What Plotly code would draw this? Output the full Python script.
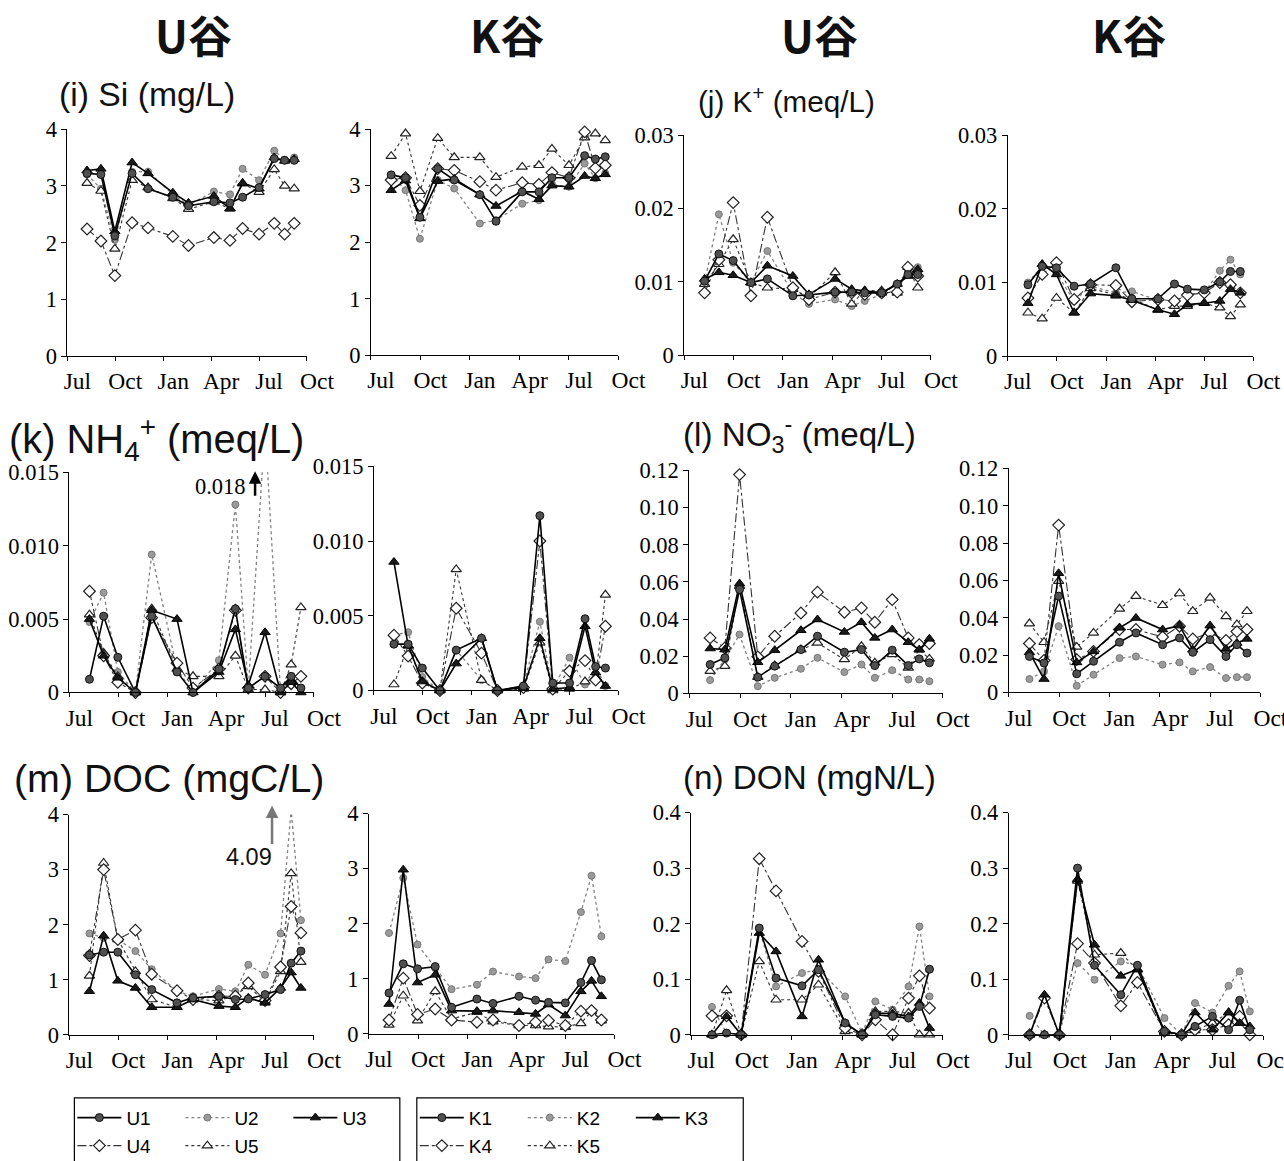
import plotly.graph_objects as go

# page geometry (the page is photographed with a small fixed scale/offset,
# so pixel positions measured on the reference are mapped back through it)
S, OX, OY = 0.978, 1.5, 13.0
W, H = 1311, 1174


def fx(x):
    return (x - OX) / S / W


def fy(y):
    return 1 - (y - OY) / S / H


def fs(size):
    return size / S


# ---------------- axis definitions ----------------
month_ticks = [0, 3, 6, 9, 12, 15]
month_labels = ["Jul", "Oct", "Jan", "Apr", "Jul", "Oct"]
# sampling dates, in months after 1 July
sample_months = [1.23, 2.1, 2.97, 4.05, 5.05, 6.6, 7.58, 9.17, 10.18, 10.97, 12.0, 12.95, 13.6, 14.2]

si_ticks = [0, 1, 2, 3, 4]
si_labels = ["0", "1", "2", "3", "4"]
k_ticks = [0, 0.01, 0.02, 0.03]
k_labels = ["0", "0.01", "0.02", "0.03"]
nh4_ticks = [0, 0.005, 0.010, 0.015]
nh4_labels = ["0", "0.005", "0.010", "0.015"]
no3_ticks = [0, 0.02, 0.04, 0.06, 0.08, 0.10, 0.12]
no3_labels = ["0", "0.02", "0.04", "0.06", "0.08", "0.10", "0.12"]
doc_ticks = [0, 1, 2, 3, 4]
doc_labels = ["0", "1", "2", "3", "4"]
don_ticks = [0, 0.1, 0.2, 0.3, 0.4]
don_labels = ["0", "0.1", "0.2", "0.3", "0.4"]

# ---------------- (i) Si (mg/L) ----------------
si_U1 = [3.22, 3.2, 2.12, 3.22, 2.95, 2.8, 2.65, 2.72, 2.7, 2.8, 2.97, 3.48, 3.45, 3.45]
si_U2 = [3.2, 2.95, 2.05, 3.25, 3.25, 2.85, 2.66, 2.9, 2.85, 3.3, 3.1, 3.62, 3.46, 3.5]
si_U3 = [3.27, 3.3, 2.2, 3.41, 3.22, 2.88, 2.7, 2.82, 2.6, 3.05, 2.95, 3.5, 3.44, 3.47]
si_U4 = [2.24, 2.03, 1.42, 2.35, 2.26, 2.11, 1.95, 2.09, 2.04, 2.25, 2.15, 2.34, 2.15, 2.34]
si_U5 = [3.05, 2.91, 1.89, 3.1, 2.97, 2.78, 2.59, 2.72, 2.6, 3.04, 2.89, 3.29, 3.0, 2.95]
si_K1 = [3.19, 3.14, 2.44, 3.3, 3.1, 2.84, 2.37, 2.89, 2.89, 3.14, 3.14, 3.53, 3.47, 3.51]
si_K2 = [3.19, 2.92, 2.06, 3.1, 2.95, 2.33, 2.39, 2.68, 2.74, 3.02, 2.98, 3.39, 3.13, 3.22]
si_K3 = [2.92, 3.09, 2.42, 3.08, 3.12, 2.84, 2.64, 2.9, 2.76, 3.0, 2.98, 3.17, 3.13, 3.2]
si_K4 = [3.1, 3.14, 2.65, 3.3, 3.27, 3.07, 2.92, 3.05, 3.02, 3.23, 3.14, 3.95, 3.31, 3.36]
si_K5 = [3.52, 3.92, 2.9, 3.84, 3.5, 3.5, 3.15, 3.33, 3.36, 3.65, 3.36, 3.85, 3.92, 3.8]

# ---------------- (j) K+ (meq/L) ----------------
k_U1 = [0.0101, 0.0138, 0.0129, 0.0099, 0.0104, 0.0081, 0.0082, 0.0086, 0.0086, 0.0085, 0.0085, 0.0097, 0.011, 0.011]
k_U2 = [0.0099, 0.0192, 0.0126, 0.0099, 0.0142, 0.0085, 0.007, 0.0076, 0.0067, 0.0074, 0.0083, 0.0097, 0.0115, 0.012]
k_U3 = [0.0104, 0.0113, 0.0109, 0.0099, 0.0122, 0.0108, 0.0083, 0.0104, 0.009, 0.0088, 0.0085, 0.0097, 0.0108, 0.0117]
k_U4 = [0.0085, 0.013, 0.0208, 0.0081, 0.0188, 0.0092, 0.0076, 0.0086, 0.0085, 0.0083, 0.0085, 0.0086, 0.012, 0.0108]
k_U5 = [0.0097, 0.0124, 0.0158, 0.0099, 0.0092, 0.009, 0.0079, 0.0113, 0.007, 0.0088, 0.0088, 0.0085, 0.012, 0.0092]
k_K1 = [0.0097, 0.0122, 0.012, 0.0095, 0.0098, 0.012, 0.0078, 0.0078, 0.0098, 0.0091, 0.009, 0.0101, 0.0115, 0.0115]
k_K2 = [0.01, 0.0122, 0.0113, 0.0075, 0.0095, 0.0086, 0.0088, 0.0076, 0.0076, 0.0084, 0.0086, 0.0116, 0.0131, 0.0111]
k_K3 = [0.0072, 0.0125, 0.0111, 0.0059, 0.0085, 0.0082, 0.0076, 0.0063, 0.0057, 0.007, 0.0072, 0.0075, 0.0091, 0.0086]
k_K4 = [0.0079, 0.0111, 0.0127, 0.0077, 0.0097, 0.0096, 0.0074, 0.0077, 0.0075, 0.0083, 0.0086, 0.01, 0.0097, 0.0086]
k_K5 = [0.0059, 0.0051, 0.0079, 0.0059, 0.0092, 0.0084, 0.0078, 0.0063, 0.0068, 0.0068, 0.0072, 0.0066, 0.0054, 0.007]

# ---------------- (k) NH4+ (meq/L) ----------------
nh4_U1 = [0.0009, 0.0052, 0.0024, 0.0, 0.0052, 0.0014, 0.0, 0.0016, 0.0057, 0.0003, 0.0011, 0.0003, 0.0011, 0.0003]
nh4_U2 = [0.0048, 0.0068, 0.0014, 0.0, 0.0094, 0.0016, 0.0, 0.0022, 0.0128, 0.0003, 0.018, 0.0, 0.0011, 0.0003]
nh4_U3 = [0.005, 0.0025, 0.001, 0.0, 0.0056, 0.005, 0.0, 0.0014, 0.0043, 0.0005, 0.0041, 0.0, 0.0007, 0.0]
nh4_U4 = [0.0069, 0.0025, 0.0007, 0.0, 0.0051, 0.002, 0.0003, 0.0016, 0.0056, 0.0003, 0.0011, 0.0, 0.0006, 0.0011]
nh4_U5 = [0.0053, 0.0027, 0.0011, 0.0, 0.0057, 0.0016, 0.0011, 0.0011, 0.0025, 0.0002, 0.0002, 0.0, 0.0019, 0.0058]
nh4_K1 = [0.0031, 0.0031, 0.0015, 0.0, 0.0027, 0.0035, 0.0, 0.0003, 0.0117, 0.0005, 0.0005, 0.0048, 0.0016, 0.0015]
nh4_K2 = [0.0037, 0.0039, 0.0009, 0.0, 0.0027, 0.0007, 0.0, 0.0003, 0.0046, 0.0001, 0.0022, 0.0004, 0.0016, 0.0003]
nh4_K3 = [0.0086, 0.003, 0.0006, 0.0, 0.0018, 0.0035, 0.0, 0.0002, 0.0035, 0.0001, 0.0002, 0.0043, 0.0012, 0.0003]
nh4_K4 = [0.0037, 0.0023, 0.0005, 0.0, 0.0055, 0.0025, 0.0, 0.0002, 0.01, 0.0001, 0.0013, 0.002, 0.0007, 0.0043]
nh4_K5 = [0.0004, 0.003, 0.0005, 0.0, 0.0081, 0.0007, 0.0, 0.0001, 0.0032, 0.0, 0.0001, 0.0006, 0.0009, 0.0064]

# ---------------- (l) NO3- (meq/L) ----------------
no3_U1 = [0.0156, 0.0192, 0.0559, 0.0088, 0.0147, 0.0236, 0.0308, 0.0222, 0.0236, 0.015, 0.0233, 0.015, 0.0186, 0.0165]
no3_U2 = [0.0072, 0.0183, 0.0317, 0.0039, 0.0084, 0.0133, 0.0192, 0.0115, 0.0156, 0.0084, 0.0125, 0.0075, 0.0075, 0.0066]
no3_U3 = [0.0242, 0.0236, 0.0591, 0.0168, 0.0233, 0.034, 0.0398, 0.0331, 0.0383, 0.0299, 0.0344, 0.0276, 0.0236, 0.0294]
no3_U4 = [0.0299, 0.0245, 0.1177, 0.0197, 0.0308, 0.0433, 0.0545, 0.0437, 0.046, 0.0383, 0.0505, 0.0299, 0.0263, 0.0269]
no3_U5 = [0.012, 0.0147, 0.0577, 0.0088, 0.015, 0.0236, 0.0272, 0.0183, 0.0254, 0.0165, 0.021, 0.0138, 0.0236, 0.0186]
no3_K1 = [0.0193, 0.0158, 0.0516, 0.01, 0.0167, 0.0269, 0.0319, 0.0256, 0.0292, 0.0215, 0.0283, 0.0193, 0.0256, 0.0211]
no3_K2 = [0.0072, 0.0113, 0.0355, 0.0036, 0.0095, 0.0184, 0.0193, 0.0149, 0.0161, 0.0113, 0.0136, 0.0077, 0.0082, 0.0082]
no3_K3 = [0.0215, 0.0072, 0.0638, 0.0161, 0.022, 0.0346, 0.0399, 0.0337, 0.0358, 0.0229, 0.0358, 0.0233, 0.0265, 0.0287]
no3_K4 = [0.0262, 0.0172, 0.0896, 0.0176, 0.022, 0.0337, 0.0337, 0.0297, 0.0355, 0.0287, 0.0319, 0.0279, 0.0326, 0.0337]
no3_K5 = [0.0369, 0.0269, 0.0596, 0.0244, 0.0319, 0.0448, 0.0516, 0.0467, 0.053, 0.0435, 0.0507, 0.0408, 0.0364, 0.0435]

# ---------------- (m) DOC (mgC/L) ----------------
doc_U1 = [1.45, 1.5, 1.5, 1.09, 0.82, 0.58, 0.67, 0.7, 0.64, 0.65, 0.73, 0.82, 1.3, 1.52]
doc_U2 = [1.84, 1.76, 1.73, 1.52, 1.19, 0.79, 0.7, 0.83, 0.79, 1.27, 1.09, 1.84, 4.09, 2.08]
doc_U3 = [0.79, 1.8, 0.98, 0.85, 0.5, 0.5, 0.64, 0.52, 0.5, 0.67, 0.58, 0.85, 1.13, 0.85]
doc_U4 = [1.44, 3.0, 1.73, 1.9, 1.1, 0.8, 0.64, 0.7, 0.7, 0.94, 0.62, 1.23, 2.33, 1.85]
doc_U5 = [1.07, 3.12, 1.73, 1.15, 0.64, 0.5, 0.64, 0.62, 0.72, 0.88, 0.6, 1.15, 2.93, 1.32]
doc_K1 = [0.74, 1.27, 1.18, 1.22, 0.48, 0.63, 0.55, 0.68, 0.61, 0.57, 0.56, 0.93, 1.33, 0.98]
doc_K2 = [1.83, 2.83, 1.62, 1.19, 0.81, 0.89, 1.13, 1.04, 1.01, 1.35, 1.32, 2.21, 2.87, 1.77]
doc_K3 = [0.54, 2.98, 0.93, 1.07, 0.42, 0.41, 0.42, 0.39, 0.36, 0.53, 0.33, 0.77, 0.96, 0.68]
doc_K4 = [0.25, 1.01, 0.35, 0.45, 0.25, 0.21, 0.25, 0.15, 0.21, 0.24, 0.15, 0.41, 0.42, 0.25]
doc_K5 = [0.16, 0.69, 0.24, 0.77, 0.27, 0.39, 0.22, 0.15, 0.15, 0.13, 0.12, 0.19, 0.41, 0.24]

# ---------------- (n) DON (mgN/L) ----------------
don_U1 = [0.0, 0.003, 0.0, 0.192, 0.102, 0.088, 0.117, 0.021, 0.0, 0.036, 0.033, 0.03, 0.051, 0.118]
don_U2 = [0.05, 0.003, 0.0, 0.19, 0.087, 0.111, 0.118, 0.069, 0.003, 0.06, 0.045, 0.087, 0.195, 0.069]
don_U3 = [0.0, 0.033, 0.0, 0.183, 0.15, 0.033, 0.135, 0.021, 0.0, 0.039, 0.038, 0.033, 0.057, 0.012]
don_U4 = [0.034, 0.034, 0.0, 0.317, 0.259, 0.168, 0.114, 0.012, 0.0, 0.027, 0.0, 0.066, 0.106, 0.048]
don_U5 = [0.0, 0.08, 0.0, 0.132, 0.063, 0.063, 0.09, 0.006, 0.0, 0.042, 0.042, 0.039, 0.0, 0.0]
don_K1 = [0.0, 0.0, 0.0, 0.3, 0.125, 0.072, 0.125, 0.006, 0.0, 0.015, 0.033, 0.009, 0.062, 0.009]
don_K2 = [0.034, 0.0, 0.0, 0.129, 0.099, 0.132, 0.125, 0.03, 0.0, 0.057, 0.04, 0.088, 0.114, 0.042]
don_K3 = [0.0, 0.072, 0.0, 0.28, 0.162, 0.106, 0.118, 0.006, 0.0, 0.04, 0.009, 0.04, 0.021, 0.015]
don_K4 = [0.0, 0.066, 0.0, 0.164, 0.129, 0.052, 0.094, 0.006, 0.0, 0.009, 0.009, 0.018, 0.033, 0.0]
don_K5 = [0.0, 0.0, 0.0, 0.277, 0.144, 0.147, 0.117, 0.003, 0.0, 0.008, 0.021, 0.04, 0.021, 0.003]

valley_titles = ["U谷", "K谷", "U谷", "K谷"]
panel_titles = ["(i) Si (mg/L)", "(j) K<sup>+</sup> (meq/L)", "(k) NH<sub>4</sub><sup>+</sup> (meq/L)",
                "(l) NO<sub>3</sub><sup>-</sup> (meq/L)", "(m) DOC (mgC/L)", "(n) DON (mgN/L)"]

# ---------------- figure construction ----------------
# (pixel box of each plot area on the reference: x0, x1, ytop, ybottom)
panels = [
    ("U", [si_U1, si_U2, si_U3, si_U4, si_U5], si_ticks, si_labels, (65, 305, 130, 357)),
    ("K", [si_K1, si_K2, si_K3, si_K4, si_K5], si_ticks, si_labels, (369, 617, 130, 356)),
    ("U", [k_U1, k_U2, k_U3, k_U4, k_U5], k_ticks, k_labels, (683, 930, 136, 356)),
    ("K", [k_K1, k_K2, k_K3, k_K4, k_K5], k_ticks, k_labels, (1007, 1253, 136, 357)),
    ("U", [nh4_U1, nh4_U2, nh4_U3, nh4_U4, nh4_U5], nh4_ticks, nh4_labels, (67, 312, 473, 693)),
    ("K", [nh4_K1, nh4_K2, nh4_K3, nh4_K4, nh4_K5], nh4_ticks, nh4_labels, (372, 617, 467, 691)),
    ("U", [no3_U1, no3_U2, no3_U3, no3_U4, no3_U5], no3_ticks, no3_labels, (688, 942, 471, 694)),
    ("K", [no3_K1, no3_K2, no3_K3, no3_K4, no3_K5], no3_ticks, no3_labels, (1008, 1260, 469, 693)),
    ("U", [doc_U1, doc_U2, doc_U3, doc_U4, doc_U5], doc_ticks, doc_labels, (67, 312, 815, 1035)),
    ("K", [doc_K1, doc_K2, doc_K3, doc_K4, doc_K5], doc_ticks, doc_labels, (367, 613, 814, 1034)),
    ("U", [don_U1, don_U2, don_U3, don_U4, don_U5], don_ticks, don_labels, (690, 942, 813, 1035)),
    ("K", [don_K1, don_K2, don_K3, don_K4, don_K5], don_ticks, don_labels, (1008, 1263, 813, 1035)),
]

styles = [
    dict(line=dict(color="#000000", width=1.6, dash="solid"),
         marker=dict(symbol="circle", size=8, color="#505050", line=dict(color="#111111", width=1))),
    dict(line=dict(color="#808080", width=1.3, dash="dot"),
         marker=dict(symbol="circle", size=7, color="#9a9a9a", line=dict(color="#777777", width=1))),
    dict(line=dict(color="#000000", width=1.6, dash="solid"),
         marker=dict(symbol="triangle-up", size=9, color="#1a1a1a", line=dict(color="#000000", width=1))),
    dict(line=dict(color="#333333", width=1.1, dash="dashdot"),
         marker=dict(symbol="diamond", size=9, color="white", line=dict(color="#222222", width=1.2))),
    dict(line=dict(color="#333333", width=1.1, dash="dot"),
         marker=dict(symbol="triangle-up", size=9, color="white", line=dict(color="#222222", width=1.2))),
]
draw_order = [1, 4, 3, 2, 0]
legend_ids = {("U", 0): "legend", ("U", 1): "legend", ("U", 2): "legend",
              ("U", 3): "legend2", ("U", 4): "legend2",
              ("K", 0): "legend3", ("K", 1): "legend3", ("K", 2): "legend3",
              ("K", 3): "legend4", ("K", 4): "legend4"}

serif = "Liberation Serif, Times New Roman, serif"
sans = "Liberation Sans, Arial, sans-serif"

fig = go.Figure()
legend_shown = set()
for i, (valley, series, yt, yl, box) in enumerate(panels):
    n = i + 1
    xa = "x" if n == 1 else f"x{n}"
    ya = "y" if n == 1 else f"y{n}"
    x0, x1, yt0, yb = box
    for s in draw_order:
        name = f"{valley}{s + 1}"
        show = name not in legend_shown
        legend_shown.add(name)
        st = styles[s]
        fig.add_trace(go.Scatter(
            x=sample_months, y=series[s], mode="lines+markers", name=name,
            line=st["line"], marker=st["marker"], xaxis=xa, yaxis=ya,
            showlegend=show, legend=legend_ids[(valley, s)], legendrank=s + 1,
            cliponaxis=False,
        ))
    xkey = "xaxis" if n == 1 else f"xaxis{n}"
    ykey = "yaxis" if n == 1 else f"yaxis{n}"
    fig.layout[xkey] = dict(
        domain=[fx(x0), fx(x1)], anchor=ya, range=[0, 15],
        tickvals=month_ticks, ticktext=month_labels, ticks="outside", ticklen=4,
        tickcolor="#000", showline=True, linecolor="#000", linewidth=1,
        showgrid=False, zeroline=False, ticklabelshift=10,
        tickfont=dict(family=serif, size=fs(23), color="#000"),
    )
    fig.layout[ykey] = dict(
        domain=[fy(yb), fy(yt0)], anchor=xa, range=[0, yt[-1]],
        tickvals=yt, ticktext=yl, ticks="outside", ticklen=5,
        tickcolor="#000", showline=True, linecolor="#000", linewidth=1,
        showgrid=False, zeroline=False,
        tickfont=dict(family=serif, size=fs(22), color="#000"),
    )

annotations = []
# valley headers
for t, cx in zip(valley_titles, [191, 505, 818, 1128]):
    annotations.append(dict(text=f"<b>{t}</b>", x=fx(cx), y=fy(35), xref="paper", yref="paper",
                            showarrow=False, xanchor="center", yanchor="middle",
                            font=dict(family="Noto Sans CJK JP, Liberation Sans", size=fs(43), color="#111")))
# panel titles (left x, centre y, size)
title_pos = [(55, 95, 33), (695, 100, 29), (5, 440, 39), (680, 435, 32.5), (10, 778, 38.5), (680, 778, 32.5)]
for t, (lx, cy, sz) in zip(panel_titles, title_pos):
    annotations.append(dict(text=t, x=fx(lx), y=fy(cy), xref="paper", yref="paper",
                            showarrow=False, xanchor="left", yanchor="middle",
                            font=dict(family=sans, size=fs(sz), color="#111")))
# off-scale markers
annotations.append(dict(text="0.018", x=fx(218), y=fy(487), xref="paper", yref="paper",
                        showarrow=False, xanchor="center", yanchor="middle",
                        font=dict(family=serif, size=fs(22), color="#000")))
annotations.append(dict(text="", x=fx(253), y=fy(472), xref="paper", yref="paper",
                        showarrow=True, ax=0, ay=26, arrowhead=2, arrowsize=1, arrowwidth=2.5,
                        arrowcolor="#000"))
annotations.append(dict(text="4.09", x=fx(247), y=fy(857), xref="paper", yref="paper",
                        showarrow=False, xanchor="center", yanchor="middle",
                        font=dict(family=sans, size=fs(23), color="#111")))
annotations.append(dict(text="", x=fx(270), y=fy(806), xref="paper", yref="paper",
                        showarrow=True, ax=0, ay=40, arrowhead=2, arrowsize=1, arrowwidth=2.5,
                        arrowcolor="#777"))


def open_box(px0, px1, pytop):
    a, b, t = fx(px0), fx(px1), fy(pytop)
    return dict(type="path", xref="paper", yref="paper",
                path=f"M {a},0 L {a},{t} L {b},{t} L {b},0",
                line=dict(color="#000", width=1.2))


shapes = [open_box(72, 398, 1098), open_box(415, 742, 1098)]

leg_common = dict(orientation="h", xanchor="left", yanchor="middle", bgcolor="rgba(0,0,0,0)",
                  font=dict(family=sans, size=fs(18.5), color="#000"), entrywidth=49,
                  entrywidthmode="pixels", itemwidth=44,
                  traceorder="normal", borderwidth=0)
fig.update_layout(
    width=W, height=H, margin=dict(l=0, r=0, t=0, b=0),
    paper_bgcolor="white", plot_bgcolor="white",
    annotations=annotations, shapes=shapes,
    legend=dict(x=fx(70), y=fy(1118), **leg_common),
    legend2=dict(x=fx(70), y=fy(1146), **leg_common),
    legend3=dict(x=fx(413), y=fy(1118), **leg_common),
    legend4=dict(x=fx(413), y=fy(1146), **leg_common),
)

fig.write_html("out.html", config={"displayModeBar": False},
               post_script="document.body.style.margin='0';document.body.style.overflow='hidden';")
